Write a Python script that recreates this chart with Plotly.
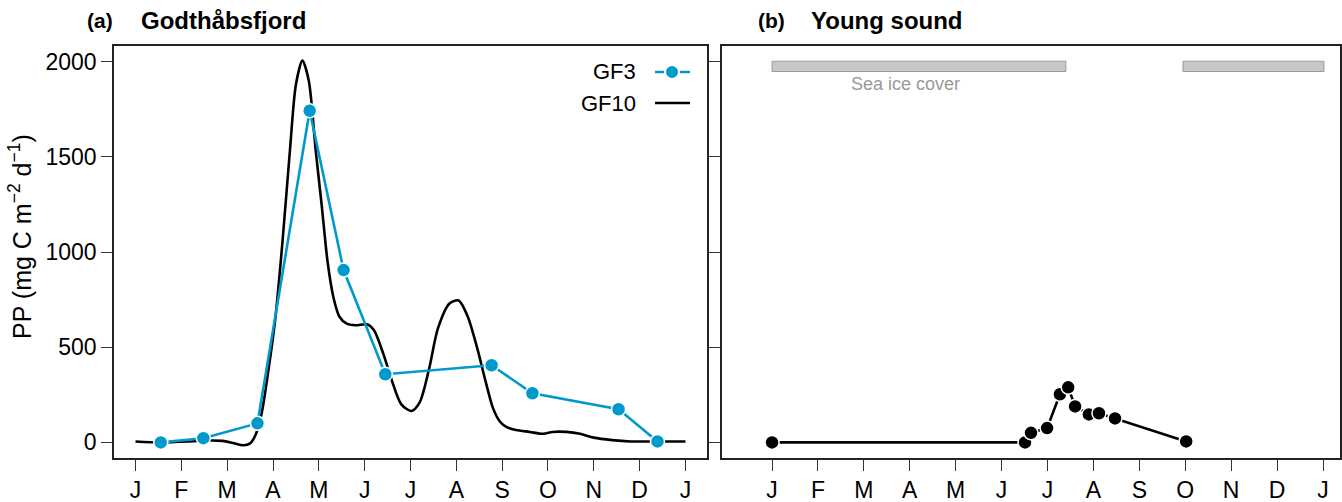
import plotly.graph_objects as go

W, H = 1342, 502

# ---------------- data ----------------
month_labels = ["J", "F", "M", "A", "M", "J", "J", "A", "S", "O", "N", "D", "J"]
month_ticks = list(range(13))

# Godthåbsfjord, GF3 station (measured points)
gf3_month = [0.55, 1.48, 2.66, 3.80, 4.54, 5.45, 7.77, 8.66, 10.54, 11.39]
gf3_pp = [0, 22, 100, 1742, 905, 358, 405, 258, 174, 5]

# Godthåbsfjord, GF10 station (smoothed annual curve)
gf10_month = [0.0, 0.55, 1.2, 1.6, 1.9, 2.15, 2.35, 2.5, 2.62, 2.75, 2.9, 3.05,
              3.21, 3.37, 3.5, 3.64, 3.78, 3.93, 4.06, 4.19, 4.32, 4.45, 4.6,
              4.8, 5.05, 5.2, 5.4, 5.6, 5.8, 6.02, 6.2, 6.4, 6.6, 6.85, 7.05,
              7.25, 7.45, 7.65, 7.8, 7.95, 8.1, 8.3, 8.6, 8.9, 9.1, 9.4, 9.7,
              10.0, 10.4, 10.8, 11.4, 12.0]
gf10_pp = [5, 0, 5, 10, 8, -5, -15, -5, 40, 150, 380, 650,
           1063, 1537, 1880, 2005, 1900, 1537, 1250, 950, 760, 660, 625,
           615, 620, 590, 470, 320, 200, 165, 210, 380, 600, 730, 745,
           660, 500, 310, 180, 110, 80, 65, 55, 45, 55, 55, 45,
           25, 12, 5, 5, 5]

# Young Sound
ys_month = [0.0, 5.51, 5.64, 5.99, 6.27, 6.45, 6.60, 6.90, 7.12, 7.47, 9.02]
ys_pp = [0, 0, 50, 75, 253, 289, 189, 147, 153, 126, 5]

# Sea ice cover periods at Young Sound (months)
ice_start = [0.0, 8.95]
ice_end = [6.4, 12.02]

# ---------------- styling ----------------
BLUE = "#0099CC"
FONT = "Liberation Sans, Arial, Helvetica, sans-serif"


def px(x):
    return x / W


def py(y):
    return 1 - y / H


fig = go.Figure()

fig.add_trace(go.Scatter(
    x=gf10_month, y=gf10_pp, mode="lines",
    line=dict(color="black", width=2.6, shape="spline", smoothing=0.8),
    xaxis="x", yaxis="y", showlegend=False, name="GF10"))

fig.add_trace(go.Scatter(
    x=gf3_month, y=gf3_pp, mode="lines+markers",
    line=dict(color=BLUE, width=2.6),
    marker=dict(color=BLUE, size=14, line=dict(color="white", width=1.5)),
    xaxis="x", yaxis="y", showlegend=False, name="GF3"))

fig.add_trace(go.Scatter(
    x=ys_month, y=ys_pp, mode="lines+markers",
    line=dict(color="black", width=2.6),
    marker=dict(color="black", size=14, line=dict(color="white", width=1.5)),
    xaxis="x2", yaxis="y2", showlegend=False, name="Young sound"))

shapes = []
for s, e in zip(ice_start, ice_end):
    shapes.append(dict(type="rect", xref="x2", yref="y2", x0=s, x1=e,
                       y0=1948, y1=2002, fillcolor="#C8C8C8",
                       line=dict(color="#9A9A9A", width=1), layer="below"))

# manual legend (text left, symbol right)
shapes.append(dict(type="line", xref="paper", yref="paper",
                   x0=px(655), x1=px(690), y0=py(72), y1=py(72),
                   line=dict(color=BLUE, width=2.6)))
shapes.append(dict(type="circle", xref="paper", yref="paper",
                   x0=px(665), x1=px(679), y0=py(79), y1=py(65),
                   fillcolor=BLUE, line=dict(color="white", width=2)))
shapes.append(dict(type="line", xref="paper", yref="paper",
                   x0=px(655), x1=px(690), y0=py(103), y1=py(103),
                   line=dict(color="black", width=2.6)))

annotations = [
    dict(text="<b>(a)</b>", x=px(100), y=py(21), xref="paper", yref="paper",
         showarrow=False, xanchor="center", yanchor="middle",
         font=dict(size=21, color="black", family=FONT)),
    dict(text="<b>Godthåbsfjord</b>", x=px(139), y=py(21), xref="paper",
         yref="paper", showarrow=False, xanchor="left", yanchor="middle",
         font=dict(size=24, color="black", family=FONT)),
    dict(text="<b>(b)</b>", x=px(771), y=py(21), xref="paper", yref="paper",
         showarrow=False, xanchor="center", yanchor="middle",
         font=dict(size=21, color="black", family=FONT)),
    dict(text="<b>Young sound</b>", x=px(809), y=py(21), xref="paper",
         yref="paper", showarrow=False, xanchor="left", yanchor="middle",
         font=dict(size=24, color="black", family=FONT)),
    dict(text="PP (mg C m<sup>−2</sup> d<sup>−1</sup>)", x=px(20), y=py(237),
         xref="paper", yref="paper", showarrow=False, textangle=-90,
         xanchor="center", yanchor="middle",
         font=dict(size=25, color="black", family=FONT)),
    dict(text="GF3", x=px(638), y=py(72), xref="paper", yref="paper",
         showarrow=False, xanchor="right", yanchor="middle",
         font=dict(size=22, color="black", family=FONT)),
    dict(text="GF10", x=px(638), y=py(103), xref="paper", yref="paper",
         showarrow=False, xanchor="right", yanchor="middle",
         font=dict(size=22, color="black", family=FONT)),
    dict(text="Sea ice cover", x=2.9, y=1884, xref="x2", yref="y2",
         showarrow=False, xanchor="center", yanchor="middle",
         font=dict(size=18, color="#999999", family=FONT)),
]

axis_common = dict(showline=True, mirror=True, linecolor="#222222",
                   linewidth=1.5, ticks="outside", ticklen=11, tickwidth=1.2,
                   tickcolor="#333333", showgrid=False, zeroline=False,
                   tickfont=dict(size=23, color="black", family=FONT))

xcommon = dict(axis_common, tickvals=month_ticks, ticktext=month_labels)

fig.update_layout(
    width=W, height=H,
    margin=dict(l=0, r=0, t=0, b=0),
    paper_bgcolor="white", plot_bgcolor="white",
    font=dict(family=FONT, color="black"),
    xaxis=dict(xcommon, domain=[px(114), px(707)], range=[-0.47, 12.47],
               anchor="y"),
    yaxis=dict(axis_common, domain=[py(458), py(46)], range=[-82, 2082],
               tickvals=[0, 500, 1000, 1500, 2000], anchor="x"),
    xaxis2=dict(xcommon, domain=[px(722), px(1340)], range=[-1.09, 12.37],
                anchor="y2"),
    yaxis2=dict(axis_common, domain=[py(458), py(46)], range=[-82, 2082],
                tickvals=[0, 500, 1000, 1500, 2000], showticklabels=False,
                anchor="x2"),
    shapes=shapes,
    annotations=annotations,
)

fig.write_html(
    "out.html",
    config={"displayModeBar": False},
    post_script="document.body.style.margin='0';"
                "document.body.style.overflow='hidden';",
)
